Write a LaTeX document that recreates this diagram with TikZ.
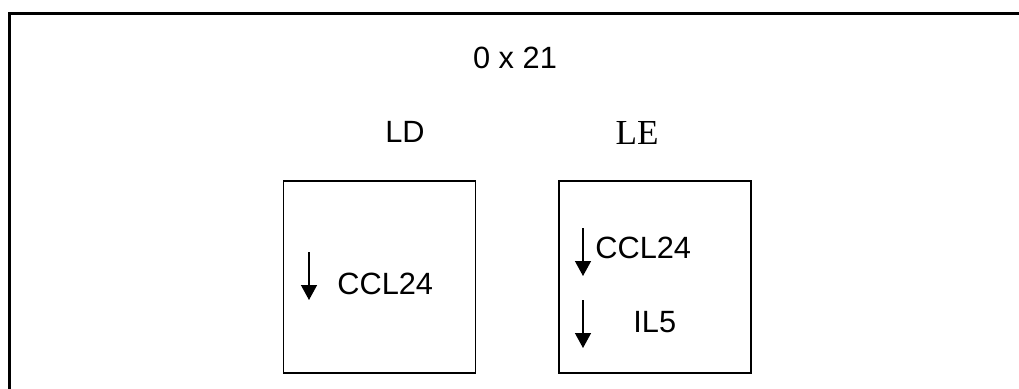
\documentclass[tikz,border=0pt]{standalone}
\usepackage{fontspec}
\setmainfont{Liberation Sans}
\newfontfamily\serifLE{Liberation Serif}
\usepackage{tikz}
\usetikzlibrary{positioning, arrows.meta}

\begin{document}
\begin{tikzpicture}[node distance=2cm, font=\fontsize{17.5}{21}\selectfont,
    panel/.style={rectangle, draw, line width=1.1pt, minimum width=3.84cm, minimum height=3.84cm},
    tag/.style={inner sep=0pt, anchor=west},
    dnarrow/.style={-{Triangle[width=0.32cm, length=0.3cm]}, line width=0.8pt}]
    \useasboundingbox (0,0) rectangle (20.38,-7.76);
    \clip (0,0) rectangle (20.38,-7.76);
    \draw[line width=1.3pt] (0.19,-8.5) -- (0.19,-0.27) -- (21,-0.27);
    \node[inner sep=0pt] (title) at (10.30,-1.16) {0 x 21};
    \node[panel] (ld) at (7.59,-5.54) {};
    \node[panel, right=1.64cm of ld] (le) {};
    \node[inner sep=0pt] (ldlabel) at (8.10,-2.64) {LD};
    \node[inner sep=0pt, font=\fontsize{20}{24}\serifLE] (lelabel) at (12.74,-2.66) {LE};
    \coordinate (ldtop) at (6.18,-5.04);
    \coordinate (ldbot) at (6.18,-6.00);
    \node[tag] (ldccl) at (6.74,-5.67) {CCL24};
    \draw[dnarrow] (ldtop) -- (ldbot);
    \coordinate (letopa) at (11.66,-4.56);
    \coordinate (lebota) at (11.66,-5.52);
    \node[tag] (leccl) at (11.90,-4.96) {CCL24};
    \draw[dnarrow] (letopa) -- (lebota);
    \coordinate (letopb) at (11.66,-6.00);
    \coordinate (lebotb) at (11.66,-6.96);
    \node[tag] (leil) at (12.66,-6.44) {IL5};
    \draw[dnarrow] (letopb) -- (lebotb);
\end{tikzpicture}
\end{document}
